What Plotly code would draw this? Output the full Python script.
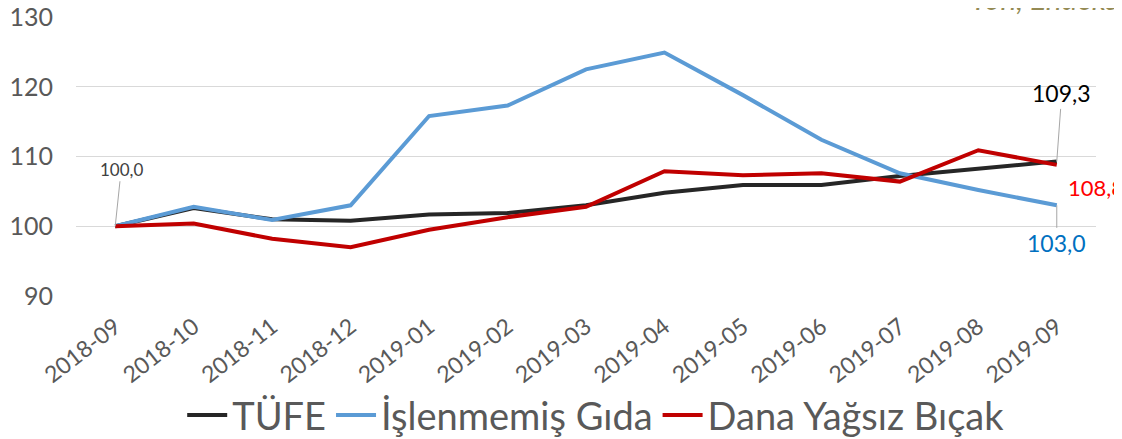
import plotly.graph_objects as go

months = ["2018-09", "2018-10", "2018-11", "2018-12", "2019-01", "2019-02", "2019-03",
          "2019-04", "2019-05", "2019-06", "2019-07", "2019-08", "2019-09"]
tufe = [100.0, 102.6, 101.0, 100.8, 101.7, 101.9, 103.0, 104.8, 105.9, 105.9, 107.2, 108.3, 109.3]
gida = [100.0, 102.8, 100.9, 103.0, 115.8, 117.3, 122.5, 124.9, 118.8, 112.4, 107.6, 105.2, 103.0]
dana = [100.0, 100.4, 98.2, 97.0, 99.5, 101.3, 102.8, 107.9, 107.3, 107.6, 106.4, 110.9, 108.8]
y_ticks = [90, 100, 110, 120, 130]

FONT = "Lato"
GREY = "#595959"

fig = go.Figure()
fig.add_trace(go.Scatter(x=months, y=tufe, name="TÜFE", mode="lines",
                         line=dict(color="#262626", width=4)))
fig.add_trace(go.Scatter(x=months, y=gida, name="İşlenmemiş Gıda", mode="lines",
                         line=dict(color="#5B9BD5", width=4)))
fig.add_trace(go.Scatter(x=months, y=dana, name="Dana Yağsız Bıçak", mode="lines",
                         line=dict(color="#C00000", width=4)))

# data labels
fig.add_annotation(x=months[0], y=tufe[0], text="100,0", showarrow=True, arrowhead=0,
                   arrowwidth=1, arrowcolor="#A6A6A6", ax=6, ay=-57,
                   font=dict(family=FONT, size=17, color="#404040"))
fig.add_annotation(x=months[-1], y=tufe[-1], text="109,3", showarrow=True, arrowhead=0,
                   arrowwidth=1, arrowcolor="#A6A6A6", ax=5, ay=-68,
                   font=dict(family=FONT, size=23, color="#000000"))
fig.add_annotation(x=months[-1], y=gida[-1], text="103,0", showarrow=True, arrowhead=0,
                   arrowwidth=1, arrowcolor="#A6A6A6", ax=0, ay=38,
                   font=dict(family=FONT, size=23, color="#0070C0"))
fig.add_annotation(x=months[-1], y=dana[-1], text="108,8", showarrow=False,
                   xshift=39, yshift=-23,
                   font=dict(family=FONT, size=22, color="#FF0000"))

# clipped subtitle at top right (only its lower edge is visible in the frame)
fig.add_annotation(xref="paper", yref="paper", x=1.0, y=1.0, xanchor="left",
                   yanchor="bottom", xshift=-128, yshift=-1, showarrow=False,
                   text="<i>Yön, Endeks</i>",
                   font=dict(family=FONT, size=30, color="#948A54"))

fig.update_layout(
    width=1114, height=431,
    margin=dict(l=68, r=26, t=9, b=143, autoexpand=False),
    paper_bgcolor="white", plot_bgcolor="white",
    font=dict(family=FONT, color=GREY),
    showlegend=True,
    legend=dict(orientation="h", xanchor="center", x=0.51, yanchor="middle", y=-0.428,
                font=dict(family=FONT, size=38, color=GREY), itemwidth=40,
                tracegroupgap=0),
)
fig.update_xaxes(type="category", range=[-0.5, 12.5], showgrid=False, showline=False,
                 automargin=False, ticks="", tickangle=-38, ticklabelstandoff=12,
                 ticklabeloverflow="allow",
                 tickfont=dict(family=FONT, size=23, color=GREY))
fig.update_yaxes(range=[90, 130], tickvals=y_ticks, showgrid=True, gridcolor="#D9D9D9",
                 gridwidth=1, zeroline=False, showline=False, ticks="",
                 automargin=False, ticklabelstandoff=22, ticklabeloverflow="allow",
                 tickfont=dict(family=FONT, size=25, color=GREY))

fig.write_html("out.html")
